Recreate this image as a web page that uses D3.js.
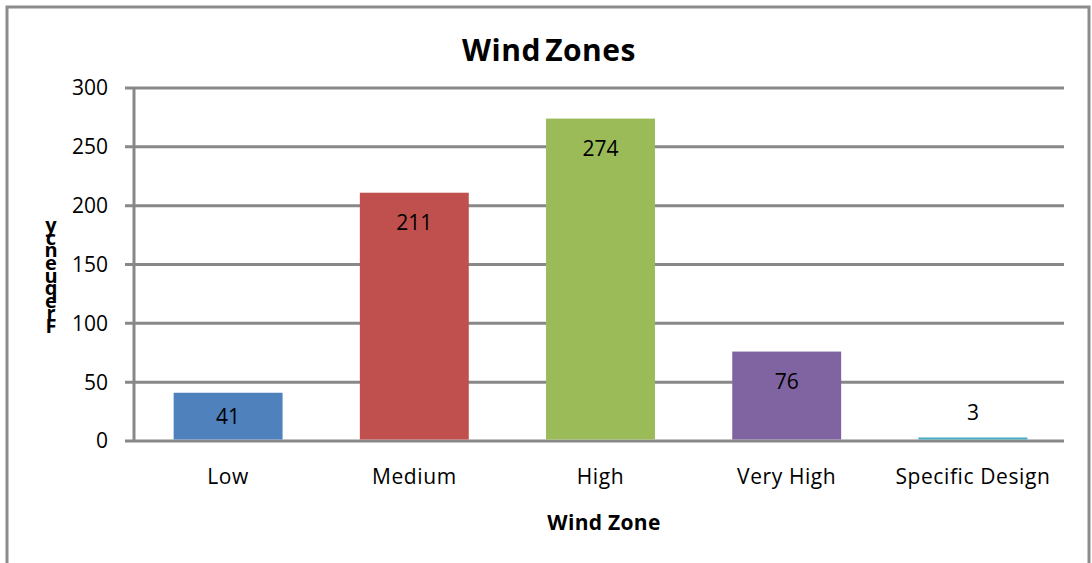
<!DOCTYPE html>
<html><head><meta charset="utf-8">
<script src="https://cdn.jsdelivr.net/npm/d3@7"></script>
<style>body{margin:0;background:#fff}svg{display:block}</style>
</head><body>
<script>
const categories = ["Low","Medium","High","Very High","Specific Design"];
const values = [41,211,274,76,3];
const colors = ["#4F81BD","#C0504D","#9BBB59","#8064A2","#4BACC6"];
const yTicks = [0,50,100,150,200,250,300];
const title = "Wind Zones", xTitle = "Wind Zone", yTitle = "Frequency";

const W=1092,H=563, font="'Open Sans', sans-serif";
const svg=d3.select("body").append("svg").attr("width",W).attr("height",H);
svg.append("rect").attr("x",7).attr("y",7).attr("width",1082).attr("height",570)
  .attr("fill","#fff").attr("stroke","#8c8c8c").attr("stroke-width",3);

const x=d3.scaleBand().domain(categories).range([135,1066]).paddingInner(0.415).paddingOuter(0.2075);
const y=d3.scaleLinear().domain([0,300]).range([441,88]);

const grid=svg.append("g");
grid.selectAll("line").data(yTicks).join("line")
  .attr("x1",125).attr("x2",1064).attr("y1",d=>y(d)).attr("y2",d=>y(d))
  .attr("stroke","#888").attr("stroke-width",3);
svg.append("line").attr("x1",134).attr("x2",134).attr("y1",y(300)).attr("y2",y(0))
  .attr("stroke","#888").attr("stroke-width",3);

svg.append("g").selectAll("text").data(yTicks).join("text")
  .attr("x",108).attr("y",d=>y(d)).attr("dy","0.35em").attr("text-anchor","end")
  .attr("font-family",font).attr("font-size",21).text(d=>d);

svg.append("g").selectAll("rect").data(values).join("rect")
  .attr("x",(d,i)=>x(categories[i])).attr("width",x.bandwidth())
  .attr("y",d=>y(d)).attr("height",d=>y(0)-1.5-y(d)).attr("fill",(d,i)=>colors[i]);

svg.append("g").selectAll("text").data(values).join("text")
  .attr("x",(d,i)=>x(categories[i])+x.bandwidth()/2)
  .attr("y",d=> d<20 ? y(d)-25 : Math.min(y(d)+30,(y(d)+y(0))/2)).attr("dy","0.35em").attr("text-anchor","middle")
  .attr("font-family",font).attr("font-size",21).text(d=>d);

svg.append("g").selectAll("text").data(categories).join("text")
  .attr("x",d=>x(d)+x.bandwidth()/2).attr("y",477).attr("dy","0.35em").attr("text-anchor","middle")
  .attr("font-family",font).attr("font-size",21).attr("letter-spacing",0.6).text(d=>d);

svg.append("text").attr("x",549).attr("y",50).attr("dy","0.35em").attr("text-anchor","middle")
  .attr("font-family",font).attr("font-weight","bold").attr("font-size",30).attr("word-spacing",-4).attr("letter-spacing",0.5).text(title);
svg.append("text").attr("x",604).attr("y",523).attr("dy","0.35em").attr("text-anchor","middle")
  .attr("font-family",font).attr("font-weight","bold").attr("font-size",21).attr("letter-spacing",0.3).text(xTitle);

const chars=yTitle.split("");
svg.append("g").selectAll("text").data(chars).join("text")
  .attr("x",51).attr("y",(d,i)=>333-i*12.6).attr("text-anchor","middle")
  .attr("font-family",font).attr("font-weight","bold").attr("font-size",20).text(d=>d);
</script>
</body></html>
